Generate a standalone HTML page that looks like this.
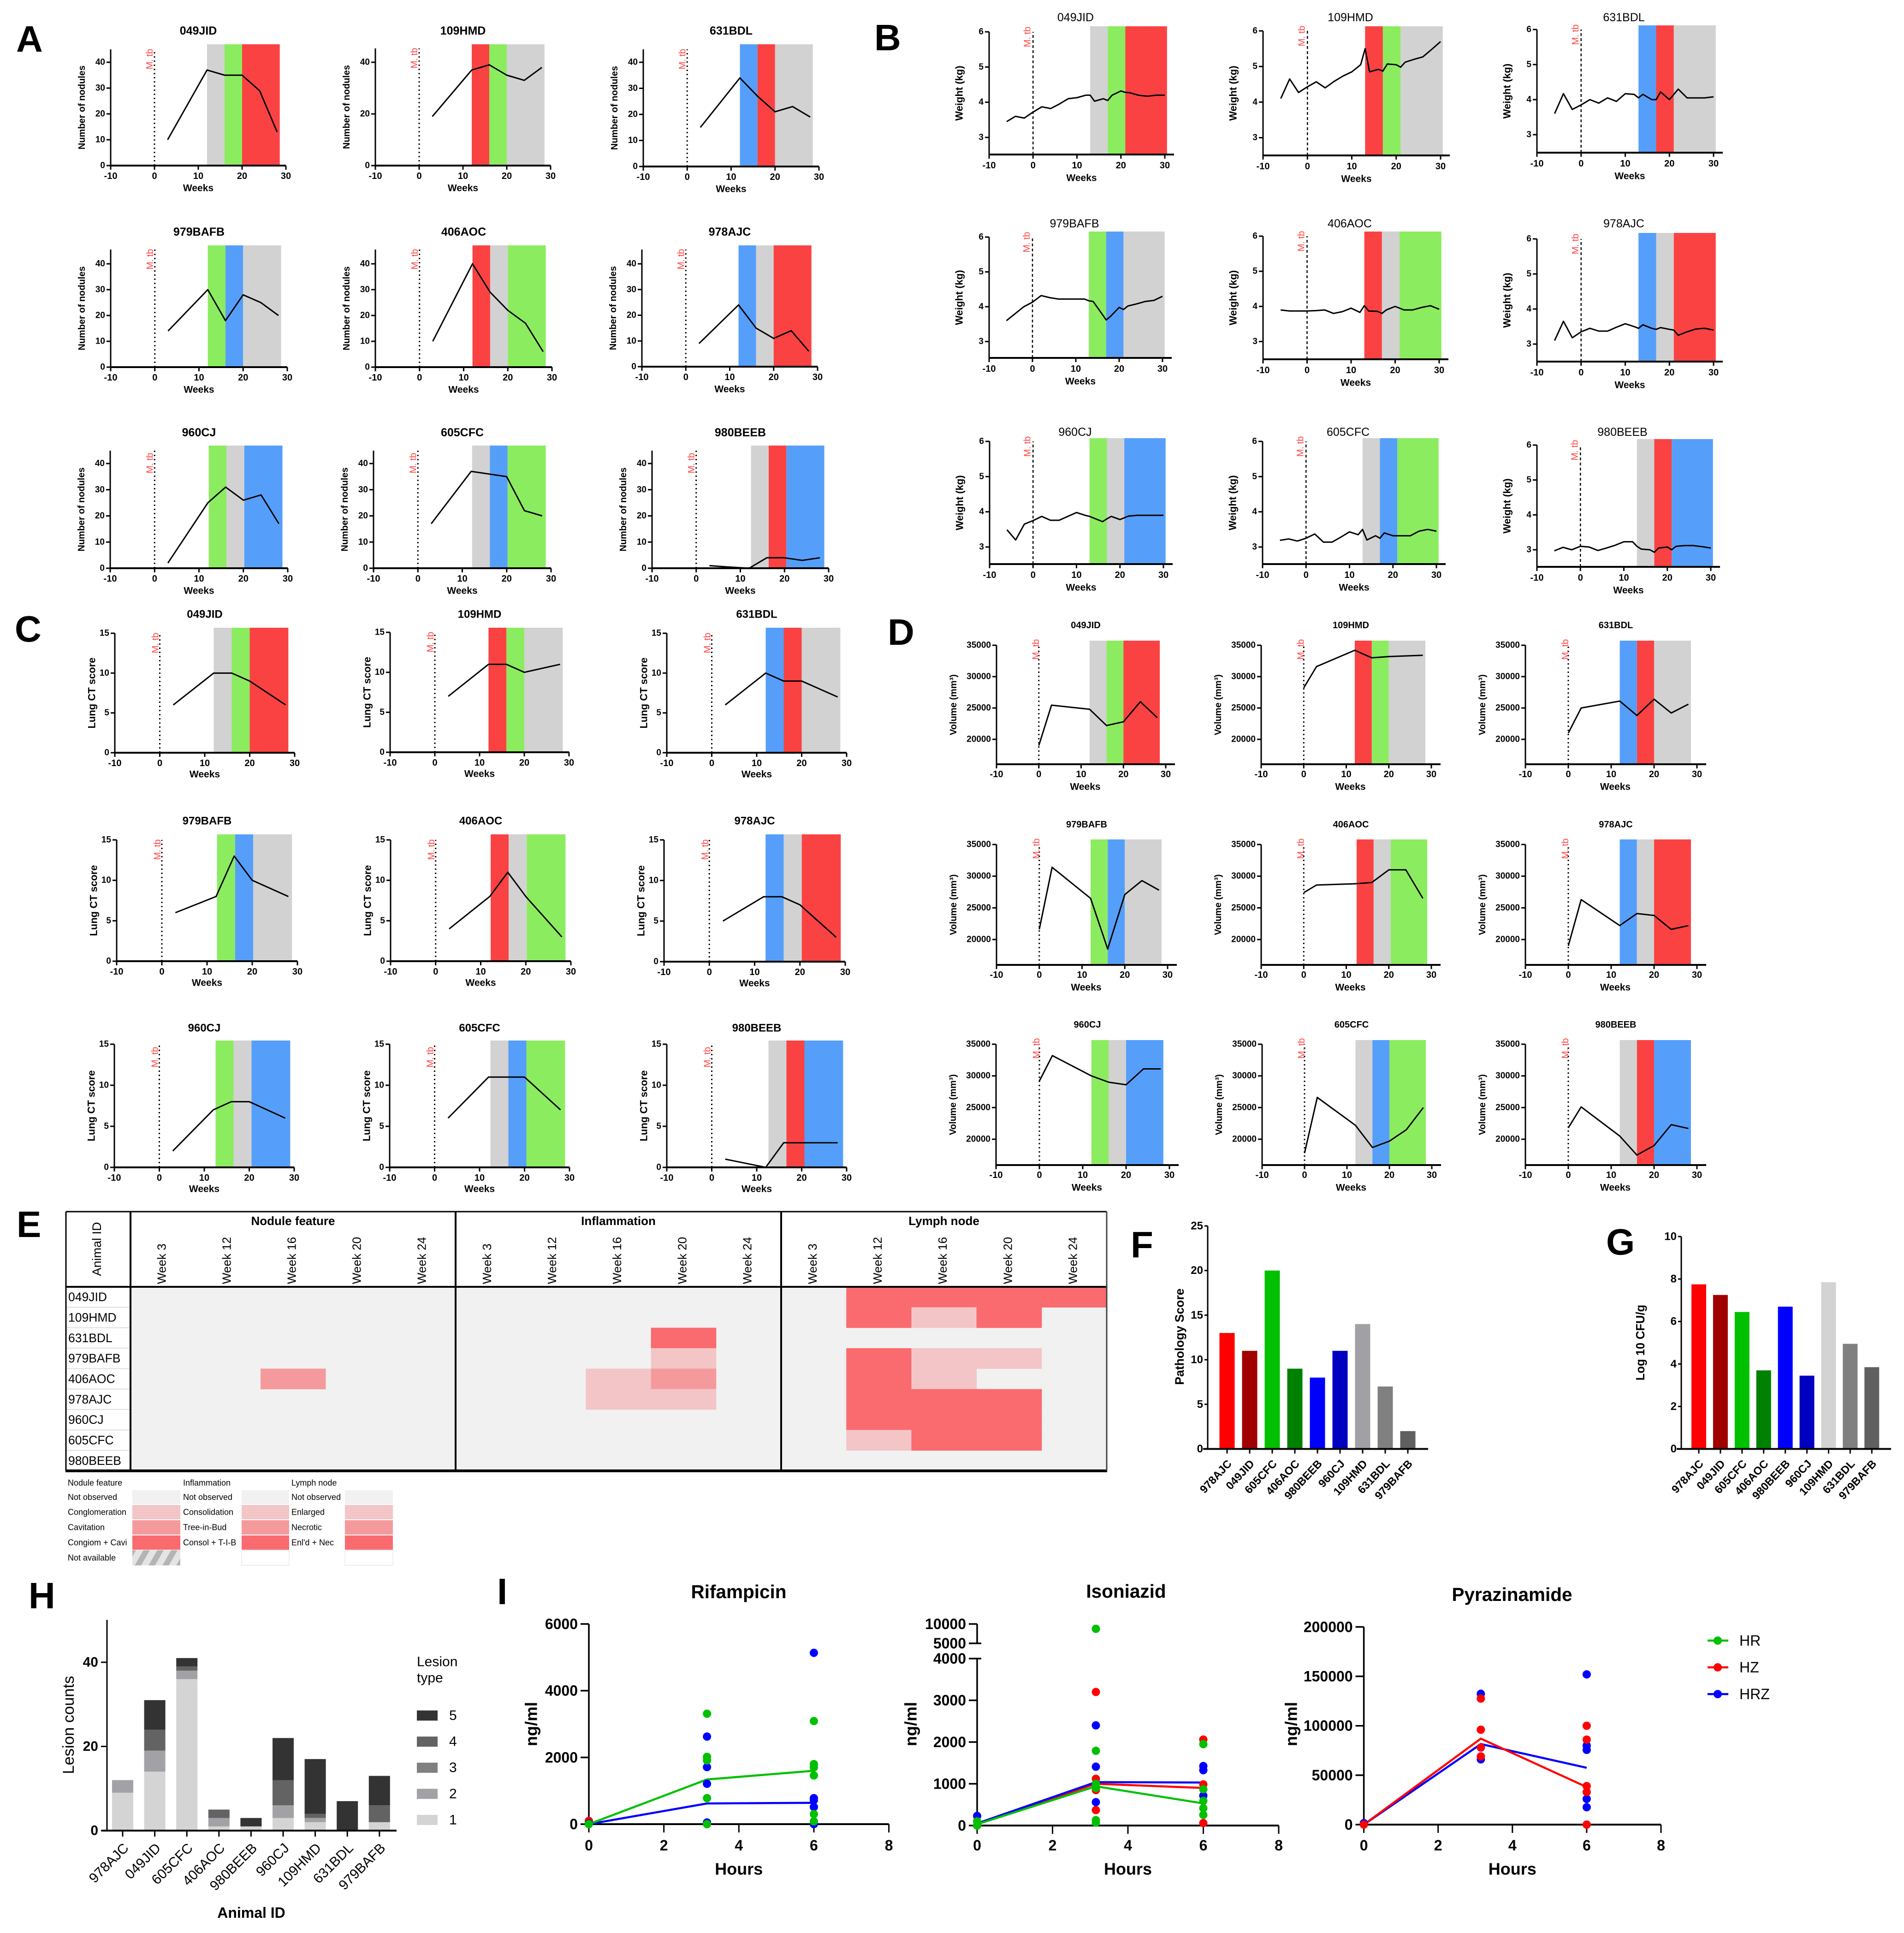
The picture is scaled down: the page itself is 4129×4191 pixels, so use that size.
<!DOCTYPE html>
<html lang="en">
<head>
<meta charset="utf-8">
<title>Multi-panel lesion and pharmacokinetics figure</title>
<style>
html,body{margin:0;padding:0;background:#fff}
svg{display:block;font-family:"Liberation Sans",Arial,sans-serif}
</style>
</head>
<body>
<svg id="figure" xmlns="http://www.w3.org/2000/svg" width="4129" height="4191" viewBox="0 0 4129 4191">
<defs>
<pattern id="hatch" patternUnits="userSpaceOnUse" width="26" height="26" patternTransform="rotate(30)">
<rect width="26" height="26" fill="#e4e4e4"></rect>
<rect width="12" height="26" fill="#b4b4b4"></rect>
</pattern>
</defs>
</svg>
<script>
// ---------- shared categories ----------
const animals = ["049JID","109HMD","631BDL","979BAFB","406AOC","978AJC","960CJ","605CFC","980BEEB"];
const barAnimals = ["978AJC","049JID","605CFC","406AOC","980BEEB","960CJ","109HMD","631BDL","979BAFB"];
const xWeekTicks = [-10,0,10,20,30];

// ---------- treatment phases ----------
const phases049JID = ["gray","green","red"];
const phases109HMD = ["red","green","gray"];
const phases631BDL = ["blue","red","gray"];
const phases979BAFB = ["green","blue","gray"];
const phases406AOC = ["red","gray","green"];
const phases978AJC = ["blue","gray","red"];
const phases960CJ = ["green","gray","blue"];
const phases605CFC = ["gray","blue","green"];
const phases980BEEB = ["gray","red","blue"];
const scanPhaseWeeks = [12,16,20,28.6];
const weightPhaseWeeks = [13,17,21,30.5];

// ---------- A: number of nodules ----------
const noduleWeeks = [3,12,16,20,24,28];
const noduleWeeks980BEEB = [3,7,12,16,20,24,28];
const nodules049JID = [10,37,35,35,29,13];
const nodules109HMD = [19,37,39,35,33,38];
const nodules631BDL = [15,34,27,21,23,19];
const nodules979BAFB = [14,30,18,28,25,20];
const nodules406AOC = [10,40,29,22,17,6];
const nodules978AJC = [9,24,15,11,14,6];
const nodules960CJ = [2,25,31,26,28,17];
const nodules605CFC = [17,37,36,35,22,20];
const nodules980BEEB = [1,0.5,0,4,4,3,4];
const noduleTicks = [0,10,20,30,40];
const noduleTicks109HMD = [0,20,40];

// ---------- B: weight ----------
const weightWeeks = [-6,-4,-2,0,2,4,6,8,10,12,13,14,16,17,18,20,21,22,24,26,28,30];
const weight049JID = [3.45,3.6,3.55,3.72,3.87,3.82,3.95,4.1,4.13,4.2,4.2,4.03,4.1,4.05,4.2,4.32,4.28,4.27,4.2,4.17,4.2,4.2];
const weight109HMD = [4.1,4.65,4.27,4.43,4.57,4.4,4.58,4.73,4.85,5.05,5.5,4.85,4.92,4.87,5.07,5.05,4.98,5.12,5.2,5.27,5.48,5.7];
const weight631BDL = [3.6,4.17,3.72,3.85,4,3.9,4.05,3.95,4.17,4.15,4.05,4.15,4,4,4.22,4,4.15,4.3,4.05,4.05,4.05,4.08];
const weight979BAFB = [3.6,3.8,4,4.13,4.32,4.26,4.22,4.22,4.22,4.22,4.17,4.15,3.8,3.62,3.72,3.98,3.92,4.02,4.08,4.15,4.18,4.3];
const weight406AOC = [3.9,3.87,3.87,3.87,3.88,3.9,3.8,3.85,3.95,3.83,4.02,3.87,3.86,3.8,3.9,4,3.95,3.9,3.9,3.97,4.02,3.92];
const weight978AJC = [3.1,3.65,3.18,3.35,3.45,3.37,3.37,3.48,3.58,3.5,3.45,3.55,3.45,3.42,3.47,3.42,3.4,3.25,3.35,3.43,3.45,3.4];
const weight960CJ = [3.49,3.2,3.65,3.75,3.87,3.76,3.76,3.87,3.98,3.9,3.87,3.82,3.72,3.8,3.87,3.78,3.83,3.88,3.9,3.9,3.9,3.9];
const weight605CFC = [3.19,3.23,3.17,3.25,3.37,3.14,3.14,3.28,3.43,3.35,3.5,3.2,3.32,3.25,3.4,3.32,3.32,3.32,3.32,3.45,3.5,3.45];
const weight980BEEB = [2.97,3.07,3,3.1,3.08,2.98,3.05,3.13,3.23,3.23,3.1,3.02,3,2.93,3.05,3.08,3,3.1,3.12,3.12,3.09,3.05];
const weightTicks = [3,4,5,6];

// ---------- C: lung CT score ----------
const ctWeeks = [3,12,16,20,28];
const ct049JID = [6,10,10,9,6];
const ct109HMD = [7,11,11,10,11];
const ct631BDL = [6,10,9,9,7];
const ct979BAFB = [6,8,13,10,8];
const ct406AOC = [4,8,11,8,3];
const ct978AJC = [5,8,8,7,3];
const ct960CJ = [2,7,8,8,6];
const ct605CFC = [6,11,11,11,7];
const ct980BEEB = [1,0,3,3,3];
const ctTicks = [0,5,10,15];

// ---------- D: lung volume ----------
const volumeWeeks = [0,3,12,16,20,24,28];
const volume049JID = [19000,25450,24800,22200,22800,26000,23450];
const volume109HMD = [28200,31600,34200,33000,33200,33300,33400];
const volume631BDL = [21000,25000,26100,23800,26400,24200,25600];
const volume979BAFB = [21600,31400,26500,18500,27100,29300,27800];
const volume406AOC = [27400,28600,28800,29000,31000,31000,26500];
const volume978AJC = [19000,26300,22200,24100,23800,21600,22200];
const volume960CJ = [29200,33200,30000,29000,28600,31100,31100];
const volume605CFC = [17800,26600,22200,18700,19700,21500,25000];
const volume980BEEB = [21800,25100,20500,17500,19000,22300,21700];
const volumeTicks = [20000,25000,30000,35000];

// ---------- E: heatmap scores (0 none, 1 light, 2 medium, 3 strong) ----------
const heatWeeks = ["Week 3","Week 12","Week 16","Week 20","Week 24"];
const noduleScores = [[0,0,0,0,0],[0,0,0,0,0],[0,0,0,0,0],[0,0,0,0,0],[0,0,2,0,0],[0,0,0,0,0],[0,0,0,0,0],[0,0,0,0,0],[0,0,0,0,0]];
const inflammationScores = [[0,0,0,0,0],[0,0,0,0,0],[0,0,0,3,0],[0,0,0,1,0],[0,0,1,2,0],[0,0,1,1,0],[0,0,0,0,0],[0,0,0,0,0],[0,0,0,0,0]];
const lymphScores = [[0,3,3,3,3],[0,3,1,3,0],[0,0,0,0,0],[0,3,1,1,0],[0,3,1,0,0],[0,3,3,3,0],[0,3,3,3,0],[0,1,3,3,0],[0,0,0,0,0]];
const noduleLegendLabels = ["Not observed","Conglomeration","Cavitation","Congiom + Cavi","Not available"];
const inflammationLegendLabels = ["Not observed","Consolidation","Tree-in-Bud","Consol + T-I-B"];
const lymphLegendLabels = ["Not observed","Enlarged","Necrotic","Enl'd + Nec"];

// ---------- F / G / H ----------
const pathologyScores = [13,11,20,9,8,11,14,7,2];
const pathologyTicks = [0,5,10,15,20,25];
const cfuValues = [7.75,7.25,6.45,3.7,6.7,3.45,7.85,4.95,3.85];
const cfuTicks = [0,2,4,6,8,10];
const lesionType1 = [9,14,36,1,1,3,2,0,2];
const lesionType2 = [3,5,2,2,0,3,1,0,0];
const lesionType3 = [0,0,0,0,0,0,0,0,0];
const lesionType4 = [0,5,1,2,0,6,1,0,4];
const lesionType5 = [0,7,2,0,2,10,13,7,7];
const lesionTicks = [0,20,40];
const lesionLegendOrder = [5,4,3,2,1];

// ---------- I: pharmacokinetics ----------
const pkHours = [0,3.15,6];
const pkHourTicks = [0,2,4,6,8];
const rifTicks = [0,2000,4000,6000];
const rifRedPoints = [[100],[],[]];
const rifBluePoints = [[20],[2625,1710,1210,50],[5135,780,715,515,0]];
const rifGreenPoints = [[0],[3310,2017,1910,780,0],[3090,1800,1700,1460,300,85]];
const rifBlueMean = [0,620,640];
const rifGreenMean = [0,1340,1600];
const inhTicks = [0,1000,2000,3000,4000,5000,10000];
const inhRedPoints = [[0],[3200,1120,850,370],[2060,985,60]];
const inhBluePoints = [[230],[2400,1410,560],[1425,1325,715]];
const inhGreenPoints = [[100,0],[8750,1790,1000,900,130,70],[1950,870,590,415,255]];
const inhRedMean = [40,1000,900];
const inhBlueMean = [50,1040,1030];
const inhGreenMean = [30,940,530];
const pzaTicks = [0,50000,100000,150000,200000];
const pzaBluePoints = [[1500],[132400,78000,66000],[152000,80000,75600,26000,17600]];
const pzaRedPoints = [[0],[127500,96000,78000,69000],[100000,86000,39000,33000,0]];
const pzaRedMean = [0,87000,38000];
const pzaBlueMean = [0,81500,57500];
const pkLegendLabels = ["HR","HZ","HRZ"];

// ---------- styles (not data) ----------
const phaseColor = {gray:"#d2d2d2",green:"#8cec60",red:"#fb4242",blue:"#559ffa"};
const heatColor = ["#f1f1f1","#f3c5c6","#f59a9c","#fa6b70"];
const pkColor = {HR:"#00c000",HZ:"#ff0000",HRZ:"#0000ff"};
const barColorsF = ["#ff0000","#a00000","#00c000","#008000","#0000ff","#0000c0","#a0a0a5","#808080","#606060"];
const barColorsG = ["#ff0000","#a00000","#00c000","#008000","#0000ff","#0000c0","#d3d3d3","#808080","#606060"];
const lesionColor = {1:"#d4d4d4",2:"#a2a2a6",3:"#808080",4:"#636363",5:"#333333"};

// ---------- helpers ----------
const NS = "http://www.w3.org/2000/svg";
const root = document.getElementById("figure");
function mk(parent, type, attrs, name) {
  const el = document.createElementNS(NS, type);
  for (const k in attrs) el.setAttribute(k, attrs[k]);
  
  
  parent.appendChild(el);
  return el;
}
function group(parent, name) { return mk(parent, "g", {}, name); }
function line(p, x1, y1, x2, y2, w, name, extra) {
  return mk(p, "line", Object.assign({x1:x1,y1:y1,x2:x2,y2:y2,stroke:"#000","stroke-width":w}, extra||{}), name);
}
function rect(p, x, y, w, h, fill, name, extra) {
  return mk(p, "rect", Object.assign({x:x,y:y,width:w,height:h,fill:fill}, extra||{}), name);
}
function label(p, str, x, y, size, o, name) {
  o = o || {};
  const a = {x:x,y:y,"font-size":size,"text-anchor":o.anchor||"middle","dominant-baseline":o.baseline||"central",fill:o.fill||"#000"};
  if (o.weight) a["font-weight"] = o.weight;
  if (o.rotate) a.transform = "rotate(" + o.rotate + " " + x + " " + y + ")";
  const t = mk(p, "text", a, name);
  t.textContent = str;
  return t;
}
function scale(d0, d1, r0, r1) { return v => r0 + (v - d0) * (r1 - r0) / (d1 - d0); }

// ---------- panel letters ----------
const panelLetters = [["A",35,112],["B",1896,109],["C",32,1391],["D",1925,1398],["E",36,2682],["F",2452,2726],["G",3483,2720],["H",62,3487],["I",1078,3478]];
panelLetters.forEach(function (l) {
  label(root, l[0], l[1], l[2], 80, {anchor:"start",baseline:"auto",weight:"bold"}, "panel-label-" + l[0].toLowerCase());
});

// ---------- small time-course chart ----------
function drawTimeCourse(cfg) {
  const g = group(root, cfg.panel + "-" + cfg.animal);
  const x = scale(-10, 30, cfg.xl, cfg.xr);
  const y = scale(cfg.dLow, cfg.dHigh, cfg.yLow, cfg.yHigh);
  const edges = cfg.phaseWeeks;
  const bandDx = cfg.bandDx || 0;
  cfg.phases.forEach(function (ph, i) {
    rect(g, x(edges[i]) + bandDx, cfg.bandTop, x(edges[i+1]) - x(edges[i]), cfg.yb - cfg.bandTop, phaseColor[ph], "phase-band-" + ph);
  });
  line(g, x(0), cfg.yb, x(0), cfg.yTop, cfg.dash === "6 5" ? 2.5 : 3, "infection-line", {"stroke-dasharray":cfg.dash});
  label(g, "M. tb", x(0) - cfg.mtbDx, cfg.yTop + cfg.mtbDy, 20, {fill:"#f44",rotate:-90}, "infection-label");
  line(g, cfg.xl, cfg.yb + 2, cfg.xl, cfg.yTop, 3, "y-axis-line");
  line(g, cfg.xl - 1, cfg.yb, cfg.xr + cfg.xExt, cfg.yb, 4, "x-axis-line");
  cfg.yTicks.forEach(function (v) {
    line(g, cfg.xl - 9, y(v), cfg.xl, y(v), 3, "y-tick");
    label(g, String(v), cfg.xl - 12, y(v), 19, {anchor:"end",weight:"bold"}, "y-tick-label");
  });
  xWeekTicks.forEach(function (v) {
    line(g, x(v), cfg.yb, x(v), cfg.yb + 9, 3, "x-tick");
    label(g, String(v), x(v), cfg.yb + cfg.tickDy, 20, {weight:"bold"}, "x-tick-label");
  });
  label(g, cfg.animal, (cfg.xl + cfg.xr) / 2 + (cfg.titleDx || 0), cfg.titleY, cfg.titleSize, {weight:cfg.titleWeight}, "chart-title");
  label(g, "Weeks", x(10) + (cfg.weeksDx || 0), cfg.yb + cfg.weeksDy, 21, {weight:"bold"}, "x-axis-title");
  label(g, cfg.yTitle, cfg.xl - cfg.yTitleDx, (cfg.yb + cfg.yTop) / 2, cfg.yTitleSize, {weight:"bold",rotate:-90}, "y-axis-title");
  const pts = cfg.values.map(function (v, i) { return x(cfg.weeks[i]) + "," + y(v); }).join(" ");
  mk(g, "polyline", {points:pts,fill:"none",stroke:"#000","stroke-width":3,"stroke-linejoin":"round"}, "series-line");
}

// ---------- panel A ----------
const layoutA = [
 [240,620,359,135,107,96,67,0],[814,1194,359,135,105,96,67,0],[1395,1776,361,135,107,96,67,0],
 [240,623,796,572,541,532,503,0],[814,1197,796,572,541,532,503,0],[1392,1773,795,572,541,532,503,0],
 [239,624,1232,1005,977,966,938,2],[810,1195,1232,1005,977,966,938,2],[1414,1797,1232,1005,977,966,938,4]];
const seriesA = [nodules049JID,nodules109HMD,nodules631BDL,nodules979BAFB,nodules406AOC,nodules978AJC,nodules960CJ,nodules605CFC,nodules980BEEB];
const phaseSets = [phases049JID,phases109HMD,phases631BDL,phases979BAFB,phases406AOC,phases978AJC,phases960CJ,phases605CFC,phases980BEEB];
animals.forEach(function (a, i) {
  const L = layoutA[i];
  drawTimeCourse({panel:"nodules",animal:a,xl:L[0],xr:L[1],yb:L[2],dLow:0,dHigh:40,yLow:L[2],yHigh:L[3],yTop:L[4],bandTop:L[5],titleY:L[6],bandDx:L[7],
    phases:phaseSets[i],phaseWeeks:scanPhaseWeeks,weeks:a==="980BEEB"?noduleWeeks980BEEB:noduleWeeks,values:seriesA[i],
    yTicks:a==="109HMD"?noduleTicks109HMD:noduleTicks,yTitle:"Number of nodules",yTitleDx:62,yTitleSize:20,
    dash:"3 6",mtbDx:10,mtbDy:i>=6?27:21,xExt:0,tickDy:23,weeksDy:49,titleSize:25,titleWeight:"bold"});
});

// ---------- panel B ----------
const layoutB = [
 [2145,2526,335,298,69,57,38],[2739,3124,337,298.5,67,57,38],[3333,3716,331,292,64,55,38],
 [2145,2521,776,740.5,514,502,485],[2739,3121,779,740.5,512,502,485],[3333,3716,784,746,518,505,485],
 [2146,2523,1223,1186,957,950,937],[2738,3115,1223,1186,957,950,937],[3333,3710,1229,1192,965,952,937]];
const seriesB = [weight049JID,weight109HMD,weight631BDL,weight979BAFB,weight406AOC,weight978AJC,weight960CJ,weight605CFC,weight980BEEB];
animals.forEach(function (a, i) {
  const L = layoutB[i];
  drawTimeCourse({panel:"weight",animal:a,xl:L[0],xr:L[1],yb:L[2],dLow:3,dHigh:6,yLow:L[3],yHigh:L[4],yTop:L[4],bandTop:L[5],titleY:L[6],
    phases:phaseSets[i],phaseWeeks:weightPhaseWeeks,weeks:weightWeeks,values:seriesB[i],
    yTicks:weightTicks,yTitle:"Weight (kg)",yTitleDx:65,yTitleSize:22,
    dash:"6 5",mtbDx:12,mtbDy:11,xExt:20,tickDy:24,weeksDy:51,weeksDx:10,titleDx:-3,titleSize:25,titleWeight:"normal"});
});

// ---------- panel C ----------
const layoutC = [
 [249,639,1632,1373,1361,1332,0],[846,1234,1631,1371,1361,1332,0],[1446,1836,1632,1373,1361,1332,0],
 [253,645,2084,1821,1809,1780,2],[847,1238,2084,1821,1809,1780,2],[1440,1833,2085,1821,1809,1780,4],
 [248,638,2531,2264,2256,2229,5],[845,1235,2531,2264,2256,2229,4],[1446,1836,2531,2264,2256,2229,6]];
const seriesC = [ct049JID,ct109HMD,ct631BDL,ct979BAFB,ct406AOC,ct978AJC,ct960CJ,ct605CFC,ct980BEEB];
animals.forEach(function (a, i) {
  const L = layoutC[i];
  drawTimeCourse({panel:"lung-ct",animal:a,xl:L[0],xr:L[1],yb:L[2],dLow:0,dHigh:15,yLow:L[2],yHigh:L[3],yTop:L[3],bandTop:L[4],titleY:L[5],bandDx:L[6],
    phases:phaseSets[i],phaseWeeks:scanPhaseWeeks,weeks:ctWeeks,values:seriesC[i],
    yTicks:ctTicks,yTitle:"Lung CT score",yTitleDx:50,yTitleSize:22,
    dash:"3 6",mtbDx:9,mtbDy:i>=6?28:21,xExt:0,tickDy:23,weeksDy:47,titleSize:24,titleWeight:"bold"});
});

// ---------- panel D ----------
const layoutD = [
 [2161,2528,1657,1603,1399,1389,1356,0],[2735,3104,1657,1603,1399,1389,1356,0],[3308,3680,1657,1603,1399,1389,1356,0],
 [2161,2532,2092,2037,1831,1820,1788,0],[2735,3104,2092,2037,1831,1820,1788,4],[3308,3680,2092,2037,1831,1820,1788,0],
 [2160,2536,2526,2470,2264,2255,2222,0],[2737,3105,2526,2470,2264,2255,2222,0],[3308,3680,2526,2470,2264,2255,2222,0]];
const seriesD = [volume049JID,volume109HMD,volume631BDL,volume979BAFB,volume406AOC,volume978AJC,volume960CJ,volume605CFC,volume980BEEB];
animals.forEach(function (a, i) {
  const L = layoutD[i];
  drawTimeCourse({panel:"volume",animal:a,xl:L[0],xr:L[1],yb:L[2],dLow:20000,dHigh:35000,yLow:L[3],yHigh:L[4],yTop:L[4],bandTop:L[5],titleY:L[6],bandDx:L[7],
    phases:phaseSets[i],phaseWeeks:scanPhaseWeeks,weeks:volumeWeeks,values:seriesD[i],
    yTicks:volumeTicks,yTitle:"Volume (mm\u00b3)",yTitleDx:93,yTitleSize:20,
    dash:"3 6",mtbDx:6,mtbDy:9,xExt:20,tickDy:22,weeksDy:49,weeksDx:9,titleDx:10,titleSize:20,titleWeight:"bold"});
});

// ---------- panel E heatmap ----------
(function () {
  const g = group(root, "lesion-heatmap");
  const left = 143, right = 2400, top = 2627, headBottom = 2790, bottom = 3189;
  const groupStarts = [283, 988, 1694];
  const groupNames = ["Nodule feature","Inflammation","Lymph node"];
  const scoreSets = [noduleScores, inflammationScores, lymphScores];
  const rowH = (bottom - headBottom) / animals.length;
  rect(g, groupStarts[0], headBottom, right - groupStarts[0], bottom - headBottom, heatColor[0], "heatmap-background");
  groupNames.forEach(function (name, s) {
    const x0 = groupStarts[s];
    const x1 = s < 2 ? groupStarts[s+1] : right;
    const colW = (x1 - x0) / heatWeeks.length;
    scoreSets[s].forEach(function (row, r) {
      row.forEach(function (score, c) {
        if (score > 0) rect(g, x0 + c * colW, headBottom + r * rowH, colW + 0.5, rowH + 0.5, heatColor[score], "heatmap-cell");
      });
    });
    label(g, name, (x0 + x1) / 2, 2647, 26, {weight:"bold"}, "group-header");
    heatWeeks.forEach(function (w, c) {
      label(g, w, x0 + (c + 0.48) * colW, 2784, 26, {anchor:"start",rotate:-90}, "week-header");
    });
  });
  label(g, "Animal ID", 210, 2708, 27, {rotate:-90}, "animal-id-header");
  animals.forEach(function (a, r) {
    if (r > 0) line(g, left + 2, headBottom + r * rowH, groupStarts[0] - 2, headBottom + r * rowH, 2, "row-separator", {stroke:"#dedede"});
    label(g, a, 148, headBottom + (r + 0.5) * rowH, 26.5, {anchor:"start"}, "row-label");
  });
  line(g, left, top, right, top, 3, "table-top-border");
  line(g, left, headBottom, right, headBottom, 4, "header-border");
  line(g, left - 1, bottom, right + 1, bottom, 6, "table-bottom-border");
  line(g, left, top, left, bottom, 3, "table-left-border");
  line(g, right, top, right, bottom, 3, "table-right-border", {stroke:"#444"});
  groupStarts.forEach(function (x) { line(g, x, top, x, bottom, 4, "group-divider"); });

  const lg = group(root, "heatmap-legend");
  const rowTops = [3231,3263,3296,3329,3361];
  const rowBottoms = [3261,3294,3327,3360,3394];
  const blocks = [
    {title:"Nodule feature",labels:noduleLegendLabels,tx:147,sx:287,sw:104},
    {title:"Inflammation",labels:inflammationLegendLabels,tx:397,sx:524,sw:103},
    {title:"Lymph node",labels:lymphLegendLabels,tx:632,sx:748,sw:104}];
  blocks.forEach(function (b) {
    label(lg, b.title, b.tx, 3215, 18, {anchor:"start"}, "legend-title");
    b.labels.forEach(function (t, i) {
      const fill = i === 4 ? "url(#hatch)" : heatColor[i];
      rect(lg, b.sx, rowTops[i], b.sw, rowBottoms[i] - rowTops[i], fill, "legend-swatch");
      label(lg, t, b.tx, (rowTops[i] + rowBottoms[i]) / 2, 18, {anchor:"start"}, "legend-label");
    });
    if (b.labels.length === 4) {
      rect(lg, b.sx, rowTops[4], b.sw, rowBottoms[4] - rowTops[4], "#fff", "legend-empty-cell", {stroke:"#eee","stroke-width":2});
    }
  });
})();

// ---------- F & G bar charts ----------
function drawBars(cfg) {
  const g = group(root, cfg.name);
  const y = scale(0, cfg.dMax, cfg.y0, cfg.yMax);
  cfg.values.forEach(function (v, i) {
    const cx = cfg.first + i * cfg.step;
    rect(g, cx - cfg.barW / 2, y(v), cfg.barW, cfg.y0 - y(v), cfg.colors[i], "bar-" + barAnimals[i]);
    line(g, cx, cfg.y0, cx, cfg.y0 + 10, 3, "x-tick");
    label(g, barAnimals[i], cx + 6, cfg.y0 + 28, 24, {anchor:"end",weight:"bold",rotate:-47}, "x-tick-label");
  });
  line(g, cfg.xAxis, cfg.y0 + 2, cfg.xAxis, cfg.yMax, 3, "y-axis-line");
  line(g, cfg.xAxis - 10, cfg.y0, cfg.xEnd, cfg.y0, 4, "x-axis-line");
  cfg.ticks.forEach(function (v) {
    line(g, cfg.xAxis - 7, y(v), cfg.xAxis, y(v), 3, "y-tick");
    label(g, String(v), cfg.xAxis - 10, y(v), 24, {anchor:"end",weight:"bold"}, "y-tick-label");
  });
  label(g, cfg.yTitle, cfg.titleX, cfg.titleY, cfg.titleSize, {weight:"bold",rotate:-90}, "y-axis-title");
}
drawBars({name:"pathology-score-chart",values:pathologyScores,colors:barColorsF,ticks:pathologyTicks,dMax:25,y0:3141.5,yMax:2658,xAxis:2619,xEnd:3097,first:2661,step:49,barW:33,yTitle:"Pathology Score",titleX:2558,titleY:2898,titleSize:26.5});
drawBars({name:"cfu-chart",values:cfuValues,colors:barColorsG,ticks:cfuTicks,dMax:10,y0:3141.5,yMax:2681,xAxis:3646,xEnd:4101,first:3684,step:46.9,barW:32,yTitle:"Log 10 CFU/g",titleX:3558,titleY:2911,titleSize:25.5});

// ---------- H stacked bars ----------
(function () {
  const g = group(root, "lesion-counts-chart");
  const y = scale(0, 40, 3969, 3604);
  const first = 266, step = 69.6, barW = 46, axisX = 232;
  const layers = {1:lesionType1,2:lesionType2,3:lesionType3,4:lesionType4,5:lesionType5};
  barAnimals.forEach(function (a, i) {
    const cx = first + i * step;
    let sum = 0;
    [1,2,3,4,5].forEach(function (k) {
      const v = layers[k][i];
      if (v > 0) rect(g, cx - barW / 2, y(sum + v), barW, y(sum) - y(sum + v), lesionColor[k], "bar-segment-" + a + "-type-" + k);
      sum += v;
    });
    line(g, cx, 3969, cx, 3982, 3, "x-tick");
    label(g, a, cx + 8, 4002, 30, {anchor:"end",rotate:-45}, "x-tick-label");
  });
  line(g, axisX, 3971, axisX, 3512, 3, "y-axis-line");
  line(g, axisX - 12, 3969, 860, 3969, 4, "x-axis-line");
  lesionTicks.forEach(function (v) {
    line(g, axisX - 13, y(v), axisX, y(v), 3, "y-tick");
    label(g, String(v), 213, y(v), 30, {anchor:"end",weight:"bold"}, "y-tick-label");
  });
  label(g, "Lesion counts", 149, 3740, 34.5, {rotate:-90}, "y-axis-title");
  label(g, "Animal ID", 545, 4147, 32, {weight:"bold"}, "x-axis-title");
  label(g, "Lesion", 904, 3603, 30, {anchor:"start"}, "legend-title");
  label(g, "type", 904, 3638, 30, {anchor:"start"}, "legend-title");
  lesionLegendOrder.forEach(function (k, i) {
    const sy = 3708.5 + i * 56.6;
    rect(g, 904, sy, 45, 22, lesionColor[k], "legend-swatch-" + k);
    label(g, String(k), 974, sy + 11, 30, {anchor:"start"}, "legend-label-" + k);
  });
})();

// ---------- I pharmacokinetic charts ----------
function drawPK(cfg) {
  const g = group(root, cfg.name);
  const x = scale(0, 8, cfg.x0, cfg.x8);
  const y = cfg.y;
  cfg.axis(g, y);
  line(g, cfg.x0 - 2, cfg.y0, cfg.x8, cfg.y0, 4, "x-axis-line");
  pkHourTicks.forEach(function (v) {
    line(g, x(v), cfg.y0, x(v), cfg.y0 + 18, 3, "x-tick");
    label(g, String(v), x(v), 4001, 32, {weight:"bold"}, "x-tick-label");
  });
  label(g, cfg.title, cfg.titleX, cfg.titleY, 40.5, {weight:"bold"}, "chart-title");
  label(g, "Hours", (cfg.x0 + cfg.x8) / 2, 4052, 36, {weight:"bold"}, "x-axis-title");
  label(g, "ng/ml", cfg.yTitleX, 3738, 36, {weight:"bold",rotate:-90}, "y-axis-title");
  cfg.series.forEach(function (s) {
    if (s.mean) {
      const pts = s.mean.map(function (v, i) { return x(pkHours[i]) + "," + y(v); }).join(" ");
      mk(g, "polyline", {points:pts,fill:"none",stroke:pkColor[s.key],"stroke-width":4.5}, "mean-line-" + s.key);
    }
  });
  cfg.series.forEach(function (s) {
    s.points.forEach(function (col, i) {
      col.forEach(function (v) {
        mk(g, "circle", {cx:x(pkHours[i]),cy:y(v),r:9,fill:pkColor[s.key]}, "point-" + s.key);
      });
    });
  });
}
function simpleYAxis(x0, yTopPx, ticks) {
  return function (g, y) {
    line(g, x0, y(0) + 2, x0, yTopPx, 3.5, "y-axis-line");
    ticks.forEach(function (v) {
      line(g, x0 - 18, y(v), x0, y(v), 3.5, "y-tick");
      label(g, String(v), x0 - 24, y(v), 32, {anchor:"end",weight:"bold"}, "y-tick-label");
    });
  };
}
const inhLow = scale(0, 4000, 3958, 3596);
const inhHigh = scale(5000, 10000, 3563, 3521);
drawPK({name:"rifampicin-chart",x0:1277,x8:1927.6,y0:3955,y:scale(0,6000,3955,3521),axis:simpleYAxis(1277,3521,rifTicks),
  title:"Rifampicin",titleX:1602,titleY:3451,yTitleX:1152,
  series:[{key:"HZ",points:rifRedPoints},{key:"HRZ",points:rifBluePoints,mean:rifBlueMean},{key:"HR",points:rifGreenPoints,mean:rifGreenMean}]});
drawPK({name:"isoniazid-chart",x0:2119,x8:2773,y0:3958,y:function (v) { return v <= 4000 ? inhLow(v) : inhHigh(v); },
  axis:function (g, y) {
    line(g, 2119, 3960, 2119, y(4000), 3.5, "y-axis-line-lower");
    line(g, 2119, y(5000), 2119, y(10000), 3.5, "y-axis-line-upper");
    inhTicks.forEach(function (v) {
      const extra = v >= 4000 && v <= 5000 ? 9 : 0;
      line(g, 2119 - 18, y(v), 2119 + extra, y(v), 3.5, "y-tick");
      label(g, String(v), 2119 - 24, y(v), 32, {anchor:"end",weight:"bold"}, "y-tick-label");
    });
  },
  title:"Isoniazid",titleX:2442,titleY:3450,yTitleX:1975,
  series:[{key:"HZ",points:inhRedPoints,mean:inhRedMean},{key:"HRZ",points:inhBluePoints,mean:inhBlueMean},{key:"HR",points:inhGreenPoints,mean:inhGreenMean}]});
drawPK({name:"pyrazinamide-chart",x0:2957.6,x8:3602,y0:3956,y:scale(0,200000,3956,3527.4),axis:simpleYAxis(2957.6,3527.4,pzaTicks),
  title:"Pyrazinamide",titleX:3279,titleY:3457,yTitleX:2800,
  series:[{key:"HRZ",points:pzaBluePoints,mean:pzaBlueMean},{key:"HZ",points:pzaRedPoints,mean:pzaRedMean}]});

(function () {
  const g = group(root, "pk-legend");
  pkLegendLabels.forEach(function (t, i) {
    const ly = 3557 + i * 58;
    line(g, 3703, ly, 3748, ly, 4.5, "legend-line-" + t, {stroke:pkColor[t]});
    mk(g, "circle", {cx:3725,cy:ly,r:9,fill:pkColor[t]}, "legend-marker-" + t);
    label(g, t, 3772, ly, 32, {anchor:"start"}, "legend-label-" + t);
  });
})();
</script>
</body>
</html>
